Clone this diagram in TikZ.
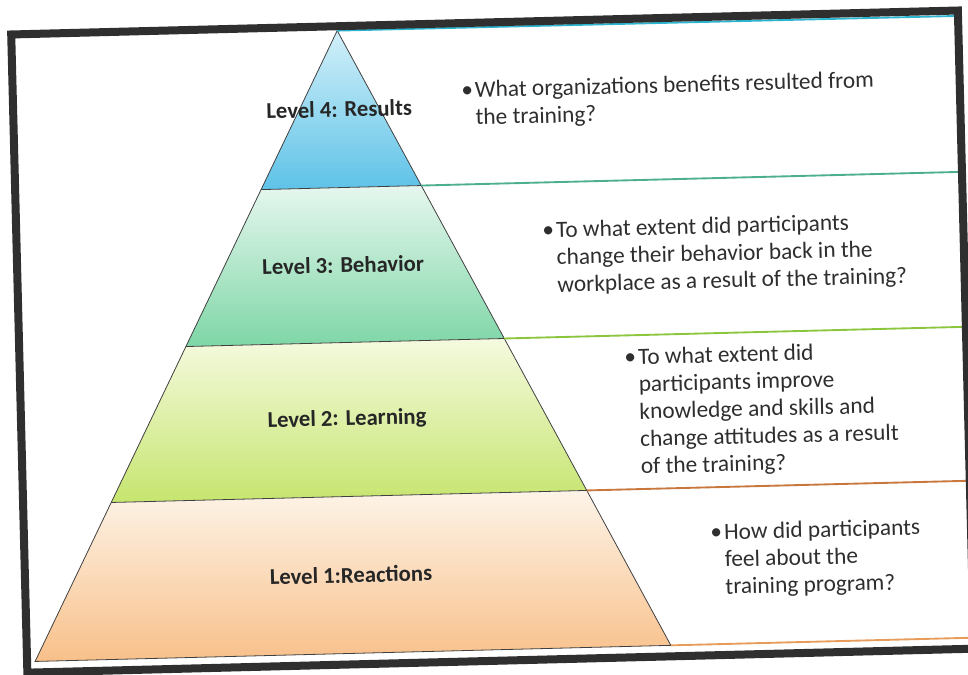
\documentclass[tikz,border=0pt]{standalone}
\usepackage{fontspec}
\setmainfont{Carlito}

\definecolor{rimgray}{HTML}{2F2F2F}
\definecolor{resultstop}{HTML}{D2F0F9}
\definecolor{resultsbot}{HTML}{5EC2E7}
\definecolor{behavtop}{HTML}{E6F7EF}
\definecolor{behavbot}{HTML}{7ED6A6}
\definecolor{learntop}{HTML}{F5FADF}
\definecolor{learnbot}{HTML}{C6E56E}
\definecolor{reacttop}{HTML}{FDF4E8}
\definecolor{reactbot}{HTML}{F8C08A}
\definecolor{resultsrule}{HTML}{2DB4CF}
\definecolor{behavrule}{HTML}{4DAF8E}
\definecolor{learnrule}{HTML}{8CC63F}
\definecolor{reactrule}{HTML}{C8783C}
\definecolor{baserule}{HTML}{E89C5C}

\tikzset{
  tier/.style={draw=black!75, line width=0.6pt},
  rule/.style={line width=1.4pt},
  levellabel/.style={font=\fontsize{17}{20}\selectfont\bfseries, text=black!85, transform shape},
  question/.style={font=\fontsize{17.5}{20.5}\selectfont, text=black!82, align=left,
    anchor=north west, inner sep=0pt, transform shape},
}

\begin{document}
\begin{tikzpicture}[x=0.75pt,y=-0.75pt]
  \useasboundingbox (0,0) rectangle (968,675);
  \begin{scope}[rotate around={1.45:(484,337)}]
    % corners of the four tiers
    \coordinate (apex) at (345,27);
    \coordinate (l4) at (264.9,184); \coordinate (r4) at (425.1,184);
    \coordinate (l3) at (185.8,339); \coordinate (r3) at (504.2,339);
    \coordinate (l2) at (107.1,493); \coordinate (r2) at (582.9,493);
    \coordinate (l1) at (27,650);    \coordinate (r1) at (663,650);
    % right ends of the rules
    \coordinate (e5) at (962,28);
    \coordinate (e4) at (962,184);
    \coordinate (e3) at (962,339);
    \coordinate (e2) at (962,493);
    \coordinate (e1) at (962,650);

    \shade[top color=resultstop, bottom color=resultsbot] (apex) -- (r4) -- (l4) -- cycle;
    \shade[top color=behavtop, bottom color=behavbot] (l4) -- (r4) -- (r3) -- (l3) -- cycle;
    \shade[top color=learntop, bottom color=learnbot] (l3) -- (r3) -- (r2) -- (l2) -- cycle;
    \shade[top color=reacttop, bottom color=reactbot] (l2) -- (r2) -- (r1) -- (l1) -- cycle;
    \draw[tier] (apex) -- (l1) -- (r1) -- cycle;
    \draw[tier] (l4) -- (r4) (l3) -- (r3) (l2) -- (r2);

    \draw[rule, resultsrule] (apex) -- (e5);
    \draw[rule, behavrule] (r4) -- (e4);
    \draw[rule, learnrule] (r3) -- (e3);
    \draw[rule, reactrule] (r2) -- (e2);
    \draw[rule, baserule] (r1) -- (e1);

    % frame
    \draw[rimgray, line width=6pt] (19,22.6) rectangle (966,661);

    \node[levellabel] (lvl4) at (345,105.5) {Level 4: Results};
    \node[levellabel] (lvl3) at (345,261.5) {Level 3: Behavior};
    \node[levellabel] (lvl2) at (345,416) {Level 2: Learning};
    \node[levellabel] (lvl1) at (345,571.5) {Level 1:Reactions};

    \node[question] (q4) at (481,80.8)
      {\llap{•\kern1.5pt}What organizations benefits resulted from\\the training?};
    \node[question] (q3) at (558.5,222.8)
      {\llap{•\kern1.5pt}To what extent did participants\\change their behavior back in the\\workplace as a result of the training?};
    \node[question] (q2) at (637.3,351.9)
      {\llap{•\kern1.5pt}To what extent did\\participants improve\\knowledge and skills and\\change attitudes as a result\\of the training?};
    \node[question] (q1) at (718.9,529.1)
      {\llap{•\kern1.5pt}How did participants\\feel about the\\training program?};
  \end{scope}
\end{tikzpicture}
\end{document}
